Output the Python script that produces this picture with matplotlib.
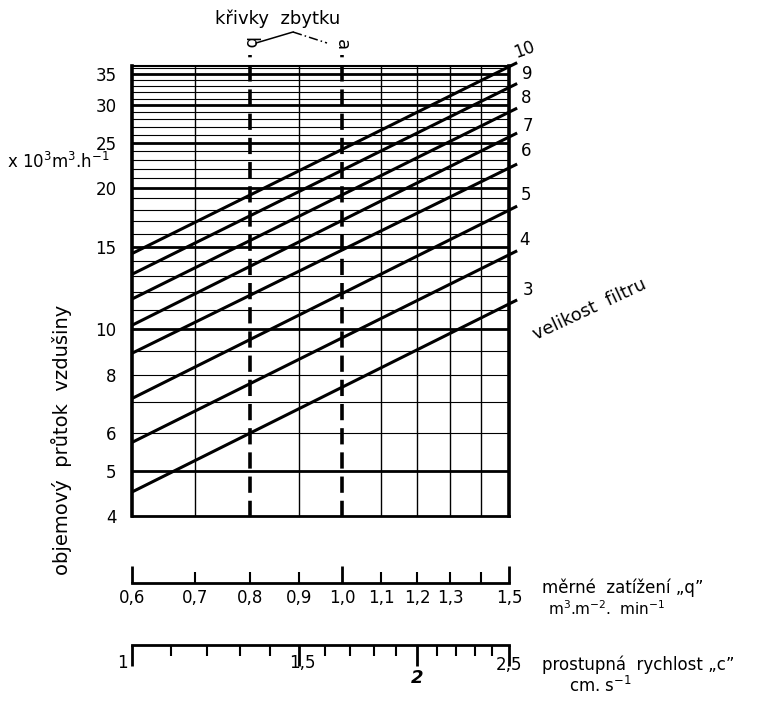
import matplotlib
matplotlib.use("Agg")
import matplotlib.pyplot as plt
from matplotlib.ticker import NullLocator

# filter sizes and read-off line endpoints (Q in 10^3 m3/h)
sizes = [3, 4, 5, 6, 7, 8, 9, 10]
q_ends = [0.6, 1.53]
Q_start = [4.5, 5.74, 7.12, 8.89, 10.2, 11.6, 13.1, 14.5]
Q_end = [11.55, 14.7, 18.3, 22.5, 26.2, 29.6, 33.4, 37.0]

y_ticks = [4, 5, 6, 8, 10, 15, 20, 25, 30, 35]
x_grid = [0.7, 0.9, 1.1, 1.2, 1.3, 1.4]
rest_curves = {"b": 0.8, "a": 1.0}

q_major = [0.6, 1.0, 1.5]
q_major_lab = ["0,6", "1,0", "1,5"]
q_minor = [0.7, 0.8, 0.9, 1.1, 1.2, 1.3, 1.4]
q_minor_lab = ["0,7", "0,8", "0,9", "1,1", "1,2", "1,3", ""]

c_major = [1.0, 1.5, 2.0, 2.5]
c_minor = [1.1, 1.2, 1.3, 1.4, 1.6, 1.7, 1.8, 1.9, 2.1, 2.2, 2.3, 2.4]

W, H = 768, 702


def px(x, y):
    return x / W, 1 - y / H


plt.rcParams['font.family'] = ['DejaVu Sans']
fig = plt.figure(figsize=(W / 100, H / 100), dpi=100)

L, R, T, B = 132, 509, 66, 516
ax = fig.add_axes([L / W, 1 - B / H, (R - L) / W, (B - T) / H])
ax.set_xscale('log')
ax.set_yscale('log')
ax.set_xlim(0.6, 1.5)
ax.set_ylim(4, 36.4)
ax.xaxis.set_minor_locator(NullLocator())
ax.yaxis.set_minor_locator(NullLocator())
ax.set_xticks([])
ax.set_yticks(y_ticks, [str(v) for v in y_ticks])
ax.tick_params(axis='y', length=0, pad=11, labelsize=12)

for v in range(4, 37):
    ax.axhline(v, color='black', lw=2.0 if v % 5 == 0 else 0.8, zorder=1)
for v in x_grid:
    ax.axvline(v, color='black', lw=1.0, zorder=1)

for sp in ['left', 'right']:
    ax.spines[sp].set_linewidth(2.6)
ax.spines['bottom'].set_linewidth(2.0)
ax.spines['top'].set_linewidth(1.5)

for s, y0, y1 in zip(sizes, Q_start, Q_end):
    ax.plot(q_ends, [y0, y1], color='black', lw=2.2, clip_on=False,
            solid_capstyle='butt', zorder=3)

for name, xv in rest_curves.items():
    ax.plot([xv, xv], [3.98, 38.4], color='black', lw=2.6, clip_on=False,
            dashes=(4.5, 2.2), zorder=2)

# labels of the size lines
size_pos = {10: (524, 50), 9: (527, 74), 8: (526, 98), 7: (528, 126),
            6: (526, 151), 5: (526, 195), 4: (524, 240), 3: (528, 290)}
for s in sizes:
    x, y = px(*size_pos[s])
    fig.text(x, y, str(s), fontsize=12, ha='center', va='center',
             rotation=20 if s == 10 else 0)
x, y = px(590, 309)
fig.text(x, y, "velikost  filtru", fontsize=13, rotation=25,
         ha='center', va='center')

# rest curves header
x, y = px(278, 19)
fig.text(x, y, "křivky  zbytku", fontsize=13, ha='center', va='center')
x, y = px(249, 43)
fig.text(x, y, "b", fontsize=13, rotation=-90, ha='center', va='center')
x, y = px(342, 45)
fig.text(x, y, "a", fontsize=13, rotation=-90, ha='center', va='center')
p1, p2, p3 = px(256, 43), px(293, 32), px(327, 43)
fig.add_artist(plt.Line2D([p1[0], p2[0]], [p1[1], p2[1]], color='black', lw=1.1))
fig.add_artist(plt.Line2D([p2[0], p3[0]], [p2[1], p3[1]], color='black', lw=1.1,
                          dashes=(6, 2, 1, 2)))

# axis titles
x, y = px(58, 162)
fig.text(x, y, r"x 10$^3$m$^3$.h$^{-1}$", fontsize=12, ha='center', va='center')
x, y = px(62, 440)
fig.text(x, y, "objemový  průtok  vzdušiny", fontsize=14, rotation=90,
         ha='center', va='center')

# q scale
axq = fig.add_axes([L / W, 1 - 583 / H, (R - L) / W, 1 / H])
axq.set_xscale('log')
axq.set_xlim(0.6, 1.5)
axq.patch.set_alpha(0)
for sp in ['left', 'right', 'top']:
    axq.spines[sp].set_visible(False)
axq.spines['bottom'].set_linewidth(2.0)
axq.set_yticks([])
axq.set_xticks(q_major, q_major_lab)
axq.set_xticks(q_minor, q_minor_lab, minor=True)
axq.tick_params(axis='x', which='major', direction='in', length=12, width=2,
                pad=4, labelsize=12)
axq.tick_params(axis='x', which='minor', direction='in', length=8, width=1.5,
                pad=4, labelsize=12)
x, y = px(542, 588)
fig.text(x, y, "měrné  zatížení „q\u201d", fontsize=12, ha='left', va='center')
x, y = px(548, 609)
fig.text(x, y, r"m$^3$.m$^{-2}$.  min$^{-1}$", fontsize=11, ha='left', va='center')

# c scale
axc = fig.add_axes([L / W, 1 - 645 / H, (R - L) / W, 1 / H])
axc.set_xscale('log')
axc.set_xlim(1.0, 2.5)
axc.patch.set_alpha(0)
for sp in ['left', 'right', 'top']:
    axc.spines[sp].set_visible(False)
axc.spines['bottom'].set_linewidth(2.0)
axc.set_yticks([])
axc.set_xticks(c_major, [''] * len(c_major))
axc.set_xticks(c_minor, [''] * len(c_minor), minor=True)
axc.tick_params(axis='x', which='major', direction='out', length=15, width=2)
axc.tick_params(axis='x', which='minor', direction='out', length=8, width=1.5)
tr = axc.get_xaxis_transform()
c_labels = [(1.0, "1", -10, 663, 'normal', 'normal', 12),
            (1.5, "1,5", 4, 663, 'normal', 'normal', 12),
            (2.0, "2", 0, 678, 'bold', 'italic', 13),
            (2.5, "2,5", 0, 665, 'normal', 'normal', 12)]
for cv, lab, dx, yy, fw, fs, sz in c_labels:
    axc.annotate(lab, (cv, 0), xycoords=tr, xytext=(dx * 0.72, -(yy - 645) * 0.72),
                 textcoords='offset points', ha='center', va='center',
                 fontsize=sz, fontweight=fw, fontstyle=fs)
x, y = px(542, 665)
fig.text(x, y, "prostupná  rychlost „c\u201d", fontsize=12, ha='left', va='center')
x, y = px(569, 686)
fig.text(x, y, r"cm. s$^{-1}$", fontsize=12, ha='left', va='center')

fig.savefig("out.png", dpi=100)
